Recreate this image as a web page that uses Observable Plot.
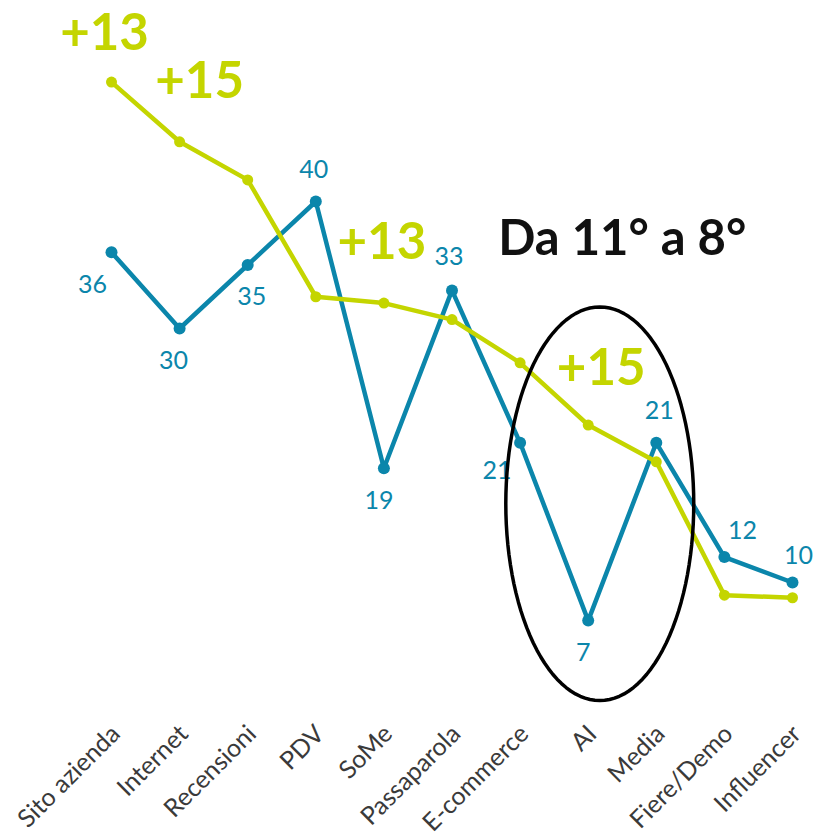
<!DOCTYPE html>
<html>
<head>
<meta charset="utf-8">
<script src="https://cdn.jsdelivr.net/npm/d3@7"></script>
<script src="https://cdn.jsdelivr.net/npm/@observablehq/plot@0.6"></script>
<style>
  html, body { margin: 0; padding: 0; background: #fff; }
  #chart svg { display: block; }
</style>
</head>
<body>
<div id="chart"></div>
<script>
// Channels, ranked by the current survey
const categories = ["Sito azienda", "Internet", "Recensioni", "PDV", "SoMe", "Passaparola",
                    "E-commerce", "AI", "Media", "Fiere/Demo", "Influencer"];
const previous = [36, 30, 35, 40, 19, 33, 21, 7, 21, 12, 10];
const current  = [49.4, 44.7, 41.7, 32.5, 32.0, 30.7, 27.3, 22.4, 19.5, 9.0, 8.8];

// Channels whose gain is called out
const highlighted = ["Sito azienda", "Internet", "SoMe", "AI"];
const rankNote = "Da 11° a 8°";

const BLUE = "#0b86ab";
const GREEN = "#c4d500";
const FONT = "Lato, 'Open Sans', sans-serif";

// Placement of each value label around its point [dx, dy]
const labelOffset = [[-19, 33], [-6, 32], [4, 32], [-2, -32], [-5, 33], [-3, -33],
                     [-23, 28], [-5, 32], [3, -32], [18, -26], [6, -27]];
// Placement of each gain callout relative to the current point
const gainOffset = {"Sito azienda": [-7, -32], "Internet": [20, -44], "SoMe": [-2, -44], "AI": [13, -40]};

const idx = categories.map((_, i) => i);
const prevRows = idx.map(i => ({i, v: previous[i]}));
const currRows = idx.map(i => ({i, v: current[i]}));

// Ring around the AI channel, in data units
const ring = {cx: 7.17, cy: 16.2, rx: 1.38, ry: 15.5};
const ringPts = d3.range(0, 361, 3).map(a => {
  const t = a * Math.PI / 180;
  return {x: ring.cx + ring.rx * Math.cos(t), y: ring.cy + ring.ry * Math.sin(t)};
});

const valueLabels = prevRows.map(d => Plot.text([d], {
  x: "i", y: "v", text: r => String(r.v),
  fill: BLUE, fontSize: 25, fontFamily: FONT, lineAnchor: "middle",
  dx: labelOffset[d.i][0], dy: labelOffset[d.i][1]
}));

const gainLabels = highlighted.map(name => {
  const i = categories.indexOf(name);
  return Plot.text([{i, v: current[i]}], {
    x: "i", y: "v", text: () => "+" + Math.round(current[i] - previous[i]),
    fill: GREEN, fontSize: 51, fontWeight: 700, fontFamily: FONT, lineAnchor: "bottom",
    dx: gainOffset[name][0], dy: gainOffset[name][1]
  });
});

const chart = Plot.plot({
  width: 817,
  height: 835,
  marginLeft: 111,
  marginRight: 25,
  marginTop: 74,
  marginBottom: 126,
  x: {type: "linear", domain: [0, categories.length - 1], axis: null},
  y: {domain: [0, 50], axis: null},
  style: {fontFamily: FONT, background: "#fff"},
  marks: [
    Plot.line(prevRows, {x: "i", y: "v", stroke: BLUE, strokeWidth: 4.5}),
    Plot.dot(prevRows, {x: "i", y: "v", r: 6, fill: BLUE}),
    ...valueLabels,
    Plot.line(currRows, {x: "i", y: "v", stroke: GREEN, strokeWidth: 4.5}),
    Plot.dot(currRows, {x: "i", y: "v", r: 5.5, fill: GREEN}),
    ...gainLabels,
    Plot.line(ringPts, {x: "x", y: "y", stroke: "#000", strokeWidth: 3.5, curve: "linear-closed"}),
    Plot.text([rankNote], {
      x: () => 7.5, y: () => 35.8, text: d => d, fill: "#111",
      fontSize: 49, fontWeight: 700, fontFamily: FONT, lineAnchor: "bottom"
    }),
    Plot.text(categories, {
      x: (d, i) => i, y: () => 0, text: d => d, rotate: -45,
      textAnchor: "end", lineAnchor: "bottom", fill: "#3a3a3a",
      fontSize: 25, fontFamily: FONT, dx: 10, dy: 26
    })
  ]
});

document.getElementById("chart").appendChild(chart);
</script>
</body>
</html>
